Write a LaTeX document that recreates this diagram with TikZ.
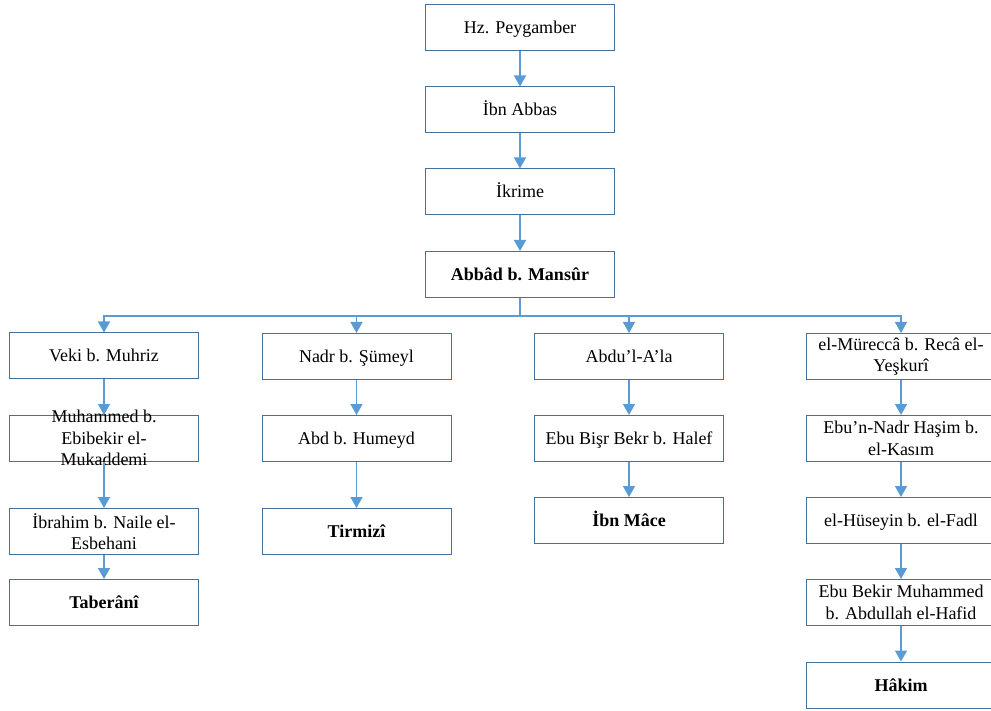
\documentclass[tikz,border=0pt]{standalone}
\usepackage{fontspec}
\setmainfont{Liberation Serif}
\usetikzlibrary{positioning, arrows.meta}
\definecolor{boxblue}{RGB}{65,113,156}
\definecolor{linkblue}{RGB}{91,155,213}

\begin{document}
\begin{tikzpicture}[x=1pt, y=-1pt,
      namebox/.style={draw=boxblue, line width=1pt, minimum width=189pt, minimum height=46pt,
        inner sep=0pt, align=center, font=\fontsize{18}{21.5}\selectfont},
      narrator/.style={namebox, text height=13pt, text depth=1pt},
      longname/.style={namebox},
      author/.style={narrator, font=\fontsize{18}{21.5}\selectfont\bfseries},
      link/.style={draw=linkblue, line width=1.5pt, -{Triangle[width=12pt, length=11pt]}}
    ]
    \useasboundingbox (0,0) rectangle (991,711);
    \node[narrator] (hz) at (520,27.5) {Hz. Peygamber};
    \node[narrator] (abbas) at (520,110) {İbn Abbas};
    \node[narrator] (ikrime) at (520,192) {İkrime};
    \node[author] (abbad) at (520,274.5) {Abbâd b. Mansûr};
    \coordinate[below=18pt of abbad.south] (split);

    \node[narrator] (veki) at (104,356) {Veki b. Muhriz};
    \node[longname] (mukaddemi) at (104,438.5)
      {\smash{\raisebox{-6pt}{\begin{tabular}[c]{@{}c@{}}Muhammed b.\\ Ebibekir el-\\ Mukaddemi\end{tabular}}}};
    \node[longname] (ibrahim) at (104,531.5) {İbrahim b. Naile el-\\ Esbehani};
    \node[author] (taberani) at (104,602.5) {Taberânî};

    \node[narrator] (nadr) at (356.5,356.5) {Nadr b. Şümeyl};
    \node[narrator] (humeyd) at (356.5,438.5) {Abd b. Humeyd};
    \node[author] (tirmizi) at (356.5,531.5) {Tirmizî};

    \node[narrator] (abdula) at (629,356.5) {Abdu’l-A’la};
    \node[narrator] (bisr) at (629,438.5) {Ebu Bişr Bekr b. Halef};
    \node[author] (mace) at (629,520.5) {İbn Mâce};

    \node[longname] (murecca) at (901,356.5) {el-Müreccâ b. Recâ el-\\ Yeşkurî};
    \node[longname] (hasim) at (901,438.5) {Ebu’n-Nadr Haşim b.\\ el-Kasım};
    \node[narrator] (huseyin) at (901,520.5) {el-Hüseyin b. el-Fadl};
    \node[longname] (hafid) at (901,602.5) {Ebu Bekir Muhammed\\ b. Abdullah el-Hafid};
    \node[author] (hakim) at (901,685) {Hâkim};

    \draw[link] (hz) -- (abbas);
    \draw[link] (abbas) -- (ikrime);
    \draw[link] (ikrime) -- (abbad);
    \draw[link] (abbad) -- (split) -| (veki);
    \draw[link] (split) -| (nadr);
    \draw[link] (split) -| (abdula);
    \draw[link] (split) -| (murecca);

    \draw[link] (veki) -- (mukaddemi);
    \draw[link] (mukaddemi) -- (ibrahim);
    \draw[link] (ibrahim) -- (taberani);
    \draw[link] (nadr) -- (humeyd);
    \draw[link] (humeyd) -- (tirmizi);
    \draw[link] (abdula) -- (bisr);
    \draw[link] (bisr) -- (mace);
    \draw[link] (murecca) -- (hasim);
    \draw[link] (hasim) -- (huseyin);
    \draw[link] (huseyin) -- (hafid);
    \draw[link] (hafid) -- (hakim);
\end{tikzpicture}
\end{document}
